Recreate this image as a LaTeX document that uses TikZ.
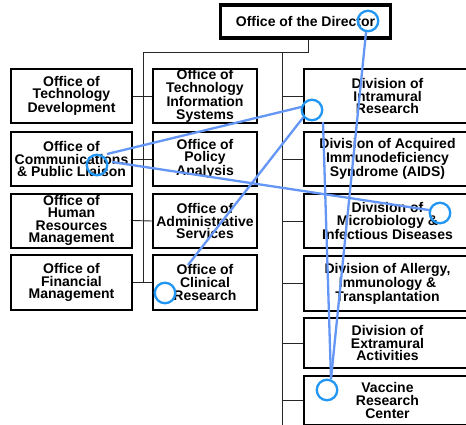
\documentclass[tikz,border=0pt]{standalone}
\usepackage{fontspec}
\setmainfont{Liberation Sans}
\definecolor{ringblue}{RGB}{33,150,243}
\definecolor{hintblue}{RGB}{100,150,245}
\begin{document}
\begin{tikzpicture}[x=1pt,y=-1pt,
  unit/.style={draw=black, line width=2pt, fill=white, inner sep=0pt, align=center,
    font=\bfseries\fontsize{14}{12.6}\selectfont},
  office/.style={unit, minimum width=121pt, minimum height=54pt},
  staff/.style={unit, minimum width=104pt, minimum height=54pt},
  division/.style={unit, minimum width=167pt, minimum height=54pt},
  tie/.style={draw=black!85, line width=0.9pt},
  ring/.style={circle, draw=ringblue, line width=2.3pt, minimum size=20.5pt, inner sep=0pt},
  hint/.style={draw=hintblue, line width=2.3pt}]
\clip (0,0) rectangle (466,424);
\fill[white] (0,0) rectangle (466,424);

% director
\node[unit, line width=3.2pt, minimum width=170pt, minimum height=33pt] (dir) at (305.5,21.5) {Office of the Director};

% left column of offices
\node[office] (tdev) at (71.5,96) {Office of\\Technology\\Development};
\node[office] (comm) at (71.5,159) {Office of\\Communications\\\& Public Liaison};
\node[office] (hr) at (71.5,220.5) {Office of\\Human\\Resources\\Management};
\node[office, minimum height=55pt] (fin) at (71.5,282.5) {Office of\\Financial\\Management};

% middle column of offices
\node[staff] (tis) at (205,96) {Office of\\Technology\\Information\\Systems};
\node[staff] (pol) at (205,159) {Office of\\Policy\\Analysis};
\node[staff] (adm) at (205,221) {Office of\\Administrative\\Services};
\node[staff, minimum height=55pt] (clin) at (205,282.5) {Office of\\Clinical\\Research};

% divisions
\node[division] (dir1) at (387.5,96) {Division of\\Intramural\\Research};
\node[division] (aids) at (387.5,159) {Division of Acquired\\Immunodeficiency\\Syndrome (AIDS)};
\node[division] (micro) at (387.5,221) {Division of\\Microbiology \&\\Infectious Diseases};
\node[division, minimum height=55pt] (allergy) at (387.5,283.5) {Division of Allergy,\\Immunology \&\\Transplantation};
\node[division, minimum height=50pt] (extra) at (387.5,343) {Division of\\Extramural\\Activities};
\node[division, minimum height=49pt] (vrc) at (387.5,400.5) {Vaccine\\Research\\Center};

% trunk lines
\coordinate (jd) at (308,52);
\coordinate (lt) at (143,52);
\coordinate (rt) at (282,52);
\coordinate (rb) at (282,430);
\draw[tie] (dir.south -| jd) -- (jd) -- (lt) -- (lt |- fin.east);
\draw[tie] (rt) -- (rb);
\foreach \a/\b in {tdev/tis, comm/pol, hr/adm, fin/clin}
  \draw[tie] (\a.east) -- (\b.west);
\foreach \d in {dir1, aids, micro, allergy, extra, vrc}
  \draw[tie] (rt |- \d.west) -- (\d.west);

% blue markings
\node[ring] (rdir) at (368,21) {};
\node[ring] (rint) at (312,110) {};
\node[ring] (rcomm) at (97,165) {};
\node[ring] (rmicro) at (440,213) {};
\node[ring] (rclin) at (165,293) {};
\node[ring] (rvrc) at (327,390) {};
\coordinate (pa) at (323,122);
\coordinate (pb) at (107,154);
\coordinate (pc) at (112,162);
\coordinate (pd) at (188,265);
\coordinate (pv) at (331,379);
\draw[hint] (rdir.-100) -- (pv);
\draw[hint] (pa) -- (pv);
\draw[hint] (rint.165) -- (pb);
\draw[hint] (pc) -- (rmicro.165);
\draw[hint] (rint.220) -- (pd);
\end{tikzpicture}
\end{document}
